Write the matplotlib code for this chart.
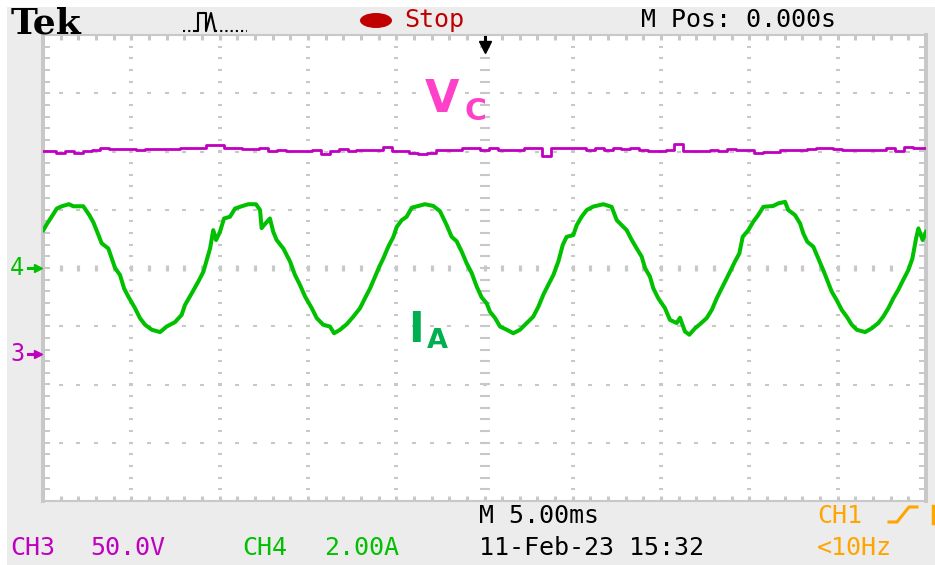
import matplotlib
matplotlib.use('Agg')
import matplotlib.pyplot as plt
import matplotlib.transforms as mtransforms
from matplotlib.lines import Line2D
from matplotlib.patches import Rectangle, Ellipse
import numpy as np

W, H = 935, 565

# scope settings
ms_per_div = 5.0
volts_per_div = 50.0   # CH3
amps_per_div = 2.0     # CH4
ch3_offset = -1.47     # divisions from centre
ch4_offset = 0.0

# CH4 (I_A) trace, time in ms and current in A
t_ia = [0.02, 0.24, 0.49, 0.78, 1.06, 1.47, 1.72, 2.28, 2.62, 2.85,
        3.07, 3.32, 3.70, 3.89, 4.08, 4.36, 4.59, 4.83, 5.21, 5.49,
        5.78, 6.16, 6.63, 7.00, 7.47, 7.85, 8.04, 8.42, 8.79, 9.08,
        9.27, 9.46, 9.64, 9.80, 10.02, 10.25, 10.59, 10.87, 11.25, 11.63,
        12.06, 12.29, 12.38, 12.51, 12.85, 13.04, 13.23, 13.61, 13.99, 14.27,
        14.55, 14.84, 15.22, 15.50, 15.87, 16.25, 16.48, 16.82, 17.20, 17.57,
        17.95, 18.23, 18.52, 18.80, 19.04, 19.27, 19.55, 19.84, 20.03, 20.31,
        20.59, 20.88, 21.25, 21.63, 22.10, 22.48, 22.86, 23.14, 23.42, 23.71,
        23.99, 24.28, 24.56, 24.84, 25.12, 25.31, 25.60, 25.88, 26.26, 26.63,
        27.01, 27.39, 27.76, 28.05, 28.33, 28.61, 28.90, 29.18, 29.43, 29.65,
        30.03, 30.22, 30.50, 30.79, 31.16, 31.73, 32.20, 32.49, 32.67, 33.05,
        33.34, 33.62, 33.90, 34.09, 34.37, 34.56, 34.84, 35.22, 35.50, 35.88,
        36.07, 36.35, 36.60, 36.92, 37.20, 37.58, 37.87, 38.15, 38.43, 38.62,
        38.90, 39.18, 39.43, 39.62, 39.94, 40.22, 40.50, 40.79, 41.35, 41.64,
        42.02, 42.20, 42.58, 42.87, 43.05, 43.28, 43.62, 43.90, 44.22, 44.47,
        44.66, 44.94, 45.23, 45.51, 45.80, 46.08, 46.55, 46.93, 47.30, 47.58,
        47.87, 48.15, 48.43, 48.71, 49.00, 49.23, 49.44, 49.57, 49.81, 50.00]
ia = [1.30, 1.53, 1.76, 2.04, 2.12, 2.19, 2.12, 2.12, 1.82, 1.57,
      1.24, 0.85, 0.67, 0.33, 0.00, -0.24, -0.70, -0.98, -1.38, -1.72,
      -1.95, -2.12, -2.20, -2.01, -1.86, -1.61, -1.27, -0.87, -0.47, -0.13,
      0.27, 0.67, 1.30, 0.96, 1.24, 1.70, 1.76, 2.04, 2.12, 2.19,
      2.19, 1.99, 1.37, 1.47, 1.70, 1.24, 0.96, 0.67, 0.22, -0.24,
      -0.58, -0.98, -1.38, -1.72, -1.95, -2.01, -2.24, -2.12, -1.93, -1.67,
      -1.38, -1.04, -0.70, -0.30, 0.04, 0.33, 0.73, 1.07, 1.41, 1.64,
      1.76, 2.07, 2.13, 2.19, 2.13, 1.95, 1.47, 1.07, 0.92, 0.56,
      0.16, -0.18, -0.64, -1.01, -1.21, -1.50, -1.72, -2.01, -2.12, -2.24,
      -2.12, -1.89, -1.67, -1.33, -0.92, -0.58, -0.24, 0.22, 0.79, 1.07,
      1.13, 1.47, 1.76, 1.99, 2.11, 2.19, 2.10, 1.64, 1.53, 1.30,
      0.96, 0.67, 0.39, 0.00, -0.30, -0.70, -1.04, -1.38, -1.78, -1.89,
      -1.71, -2.18, -2.29, -2.07, -1.93, -1.72, -1.44, -1.04, -0.70, -0.47,
      -0.13, 0.22, 0.50, 1.07, 1.30, 1.59, 1.82, 2.10, 2.13, 2.22,
      2.27, 1.99, 1.82, 1.53, 1.19, 0.90, 0.73, 0.33, -0.13, -0.52,
      -0.81, -1.10, -1.44, -1.67, -1.95, -2.12, -2.20, -2.07, -1.89, -1.67,
      -1.38, -1.04, -0.75, -0.41, -0.07, 0.33, 1.02, 1.36, 0.96, 1.24]

# CH3 (Vc) trace in V, one sample every 0.5 ms
vc = [173.8, 174.2, 172.6, 173.8, 172.4, 174.2, 174.6, 176.2, 175.5, 175.5,
      175.5, 175.2, 175.5, 175.5, 175.5, 175.5, 176.4, 176.4, 176.4, 178.9,
      178.9, 176.4, 176.4, 175.5, 175.5, 176.4, 174.2, 174.7, 174.2, 174.2,
      174.2, 174.7, 171.5, 174.2, 175.5, 174.2, 174.7, 174.7, 174.7, 177.5,
      174.2, 174.2, 172.0, 171.5, 172.0, 174.7, 174.7, 174.7, 176.2, 176.2,
      175.2, 176.5, 175.2, 175.2, 175.2, 176.2, 176.2, 170.0, 176.2, 176.2,
      176.2, 176.2, 175.2, 176.5, 175.2, 176.2, 175.5, 176.5, 175.2, 174.2,
      174.2, 174.7, 180.0, 174.0, 173.8, 173.8, 174.7, 174.2, 175.5, 174.7,
      174.7, 172.0, 172.9, 172.9, 174.7, 174.7, 174.7, 175.5, 176.4, 176.4,
      175.5, 174.7, 174.7, 174.7, 175.2, 175.2, 176.4, 174.0, 177.0, 176.4,
      176.4]
t_vc = np.linspace(0, 10 * ms_per_div, len(vc))

GRID = '#c8c8c8'
PANEL = '#ececec'
GREEN = '#00c000'
PURPLE = '#c000c0'
ORANGE = '#ffa500'
MONO = 'DejaVu Sans Mono'

fig = plt.figure(figsize=(W / 100, H / 100), dpi=100)
fig.patch.set_facecolor('white')


def fx(x):
    return x / W


def fy(y):
    return 1 - y / H


def px_line(xs, ys, **kw):
    fig.add_artist(Line2D([fx(x) for x in xs], [fy(y) for y in ys],
                          transform=fig.transFigure, **kw))


fig.add_artist(Rectangle((fx(7), 0), 1 - fx(7), fy(7), transform=fig.transFigure,
                         facecolor=PANEL, edgecolor='none', zorder=0))

# graticule: 10 x 8 divisions
ax = fig.add_axes([fx(43), fy(501), fx(926) - fx(43), fy(35) - fy(501)])
ax.set_xlim(0, 10 * ms_per_div)
ax.set_ylim(-4, 4)
ax.set_facecolor('white')
for side in ['left', 'right']:
    ax.spines[side].set_linewidth(2.9)
for side in ['top', 'bottom']:
    ax.spines[side].set_linewidth(1.5)
for sp in ax.spines.values():
    sp.set_color(GRID)

minor_x = np.arange(1, 50, 1.0)
minor_y = np.arange(-3.8, 3.81, 0.2)
ax.set_xticks(minor_x)
ax.set_yticks(minor_y)
ax.tick_params(axis='x', direction='in', top=True, bottom=True, length=3.6, width=2.2,
               color=GRID, labelbottom=False)
ax.tick_params(axis='y', direction='in', left=True, right=True, length=5, width=1.4,
               color=GRID, labelleft=False)

for gy in [-3, -2, -1, 1, 2, 3]:
    ax.plot(minor_x, np.full_like(minor_x, gy), ls='none', marker='_', ms=2.6, mew=1.5,
            color=GRID, zorder=1)
for gx in [5, 10, 15, 20, 30, 35, 40, 45]:
    ax.plot(np.full_like(minor_y, gx), minor_y, ls='none', marker='_', ms=2.9, mew=1.5,
            color=GRID, zorder=1)
ax.plot(minor_x, np.zeros_like(minor_x), ls='none', marker='|', ms=5, mew=2.3,
        color=GRID, zorder=1)
ax.plot(np.full_like(minor_y, 25), minor_y, ls='none', marker='_', ms=7, mew=1.5,
        color=GRID, zorder=1)

# traces
ax.plot(t_vc, np.array(vc) / volts_per_div + ch3_offset, color=PURPLE, lw=2.0,
        drawstyle='steps-mid', zorder=3)
ax.plot(t_ia, np.array(ia) / amps_per_div + ch4_offset, color=GREEN, lw=2.9, zorder=4)

# trigger position marker
ax.plot([25, 25], [3.97, 3.85], color='black', lw=2.2, zorder=5, clip_on=False)
ax.plot([25], [3.8], marker='v', ms=8, color='black', zorder=5, clip_on=False)

# channel reference markers on the left
tr = mtransforms.blended_transform_factory(fig.transFigure, ax.transData)
for label, off, col in [('4', ch4_offset, GREEN), ('3', ch3_offset, PURPLE)]:
    fig.text(fx(10), off, label, transform=tr, family=MONO, fontsize=17, color=col,
             va='center', ha='left')
    fig.add_artist(Line2D([fx(28), fx(37)], [off, off], transform=tr, color=col, lw=2.2))
    fig.add_artist(Line2D([fx(38)], [off], transform=tr, marker='>', ms=6, color=col, lw=0))

# signal names
PINK = '#ff40c8'
fig.text(fx(425), fy(112), 'V', fontsize=32, fontweight='bold', color=PINK, va='baseline')
fig.text(fx(464), fy(120), 'C', fontsize=21.5, fontweight='bold', color=PINK, va='baseline')
IAC = '#00b050'
fig.text(fx(408), fy(342), 'I', fontsize=30, fontweight='bold', color=IAC, va='baseline')
fig.text(fx(427), fy(348), 'A', fontsize=19.5, fontweight='bold', color=IAC, va='baseline')

# header
fig.text(fx(11), fy(33), 'Tek', family='DejaVu Serif', fontweight='bold', fontsize=26,
         color='black', va='baseline')
px_line([183, 194], [31, 31], color='black', lw=1.5, ls=(0, (1, 1.5)))
px_line([194, 198, 198, 206, 206, 211, 215], [31, 31, 13, 13, 31, 13, 31], color='black', lw=1.5)
px_line([215, 247], [31, 31], color='black', lw=1.5, ls=(0, (1, 1.5)))
fig.add_artist(Ellipse((fx(376), fy(20.5)), fx(32), 15 / H, transform=fig.transFigure,
                       facecolor='#c00000', edgecolor='none'))
fig.text(fx(404), fy(27), 'Stop', family=MONO, fontsize=18, color='#c00000', va='baseline')
fig.text(fx(641), fy(27), 'M Pos: 0.000s', family=MONO, fontsize=18, color='black',
         va='baseline')

# footer
fig.text(fx(10), fy(555), 'CH3', family=MONO, fontsize=18, color=PURPLE, va='baseline')
fig.text(fx(90), fy(555), '50.0V', family=MONO, fontsize=18, color=PURPLE, va='baseline')
fig.text(fx(242), fy(555), 'CH4', family=MONO, fontsize=18, color=GREEN, va='baseline')
fig.text(fx(324), fy(555), '2.00A', family=MONO, fontsize=18, color=GREEN, va='baseline')
fig.text(fx(479), fy(523), 'M 5.00ms', family=MONO, fontsize=18, color='black', va='baseline')
fig.text(fx(479), fy(555), '11-Feb-23 15:32', family=MONO, fontsize=18, color='black',
         va='baseline')
fig.text(fx(817), fy(523), 'CH1', family=MONO, fontsize=18, color=ORANGE, va='baseline')
px_line([889, 897, 909, 917], [522, 522, 507, 507], color=ORANGE, lw=2.2)
px_line([933, 933], [506, 523], color=ORANGE, lw=2.5)
fig.text(fx(817), fy(555), '<10Hz', family=MONO, fontsize=18, color=ORANGE, va='baseline')

fig.savefig('out.png', dpi=100, facecolor=fig.get_facecolor())
